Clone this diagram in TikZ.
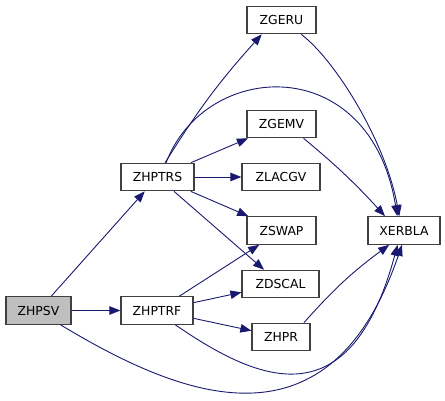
\documentclass[tikz,border=0pt]{standalone}
\usepackage{fontspec}
\setmainfont{DejaVu Sans}
\usetikzlibrary{arrows.meta}
\definecolor{edgeblue}{RGB}{25,25,112}
\definecolor{boxgray}{RGB}{64,64,64}
\definecolor{rootgray}{RGB}{191,191,191}

\begin{document}
\begin{tikzpicture}[x=1pt,y=1pt,
        fn/.style={draw=boxgray,line width=1.2pt,fill=white,minimum height=27.5pt,inner sep=0pt,font=\fontsize{12.4}{14}\selectfont},
        call/.style={draw=edgeblue,line width=0.9pt,-{Triangle[length=11pt,width=8.5pt]}}]
        \useasboundingbox (0,0) rectangle (445,-400);
        \node[fn,fill=rootgray,minimum width=65pt] (ZHPSV) at (38.5,-310.5) {ZHPSV};
        \node[fn,minimum width=73pt] (ZHPTRS) at (157.5,-177) {ZHPTRS};
        \node[fn,minimum width=72pt] (ZHPTRF) at (157,-310.5) {ZHPTRF};
        \node[fn,minimum width=69pt] (ZGERU) at (281.5,-20) {ZGERU};
        \node[fn,minimum width=69pt] (ZGEMV) at (281.5,-124) {ZGEMV};
        \node[fn,minimum width=78pt] (ZLACGV) at (281,-177) {ZLACGV};
        \node[fn,minimum width=69pt] (ZSWAP) at (281.5,-230.5) {ZSWAP};
        \node[fn,minimum width=77pt] (ZDSCAL) at (280.5,-284) {ZDSCAL};
        \node[fn,minimum width=58pt] (ZHPR) at (281,-337) {ZHPR};
        \node[fn,minimum width=72pt] (XERBLA) at (404,-230.5) {XERBLA};

        \draw[call] (ZHPSV) -- (ZHPTRS);
        \draw[call] (ZHPSV) -- (ZHPTRF);
        \draw[call] (ZHPSV.-33) .. controls (185,-400) and (330,-455) .. (XERBLA.-98);
        \draw[call] (ZHPTRS.62) to[bend left=5] (ZGERU.-144);
        \draw[call] (ZHPTRS.59) .. controls (205,-60) and (370,-50) .. (XERBLA.115);
        \draw[call] (ZHPTRS) -- (ZGEMV);
        \draw[call] (ZHPTRS) -- (ZLACGV);
        \draw[call] (ZHPTRS) -- (ZSWAP);
        \draw[call] (ZHPTRS) -- (ZDSCAL);
        \draw[call] (ZHPTRF) -- (ZSWAP);
        \draw[call] (ZHPTRF) -- (ZDSCAL);
        \draw[call] (ZHPTRF) -- (ZHPR);
        \draw[call] (ZHPTRF.-38) .. controls (260,-383) and (350,-420) .. (XERBLA.-114);
        \draw[call] (ZGERU.-36) .. controls (335,-60) and (385,-140) .. (XERBLA.108);
        \draw[call] (ZGEMV.-33) to[bend left=4] (XERBLA.143);
        \draw[call] (ZHPR.32) to[bend left=6] (XERBLA.-136);
\end{tikzpicture}
\end{document}
